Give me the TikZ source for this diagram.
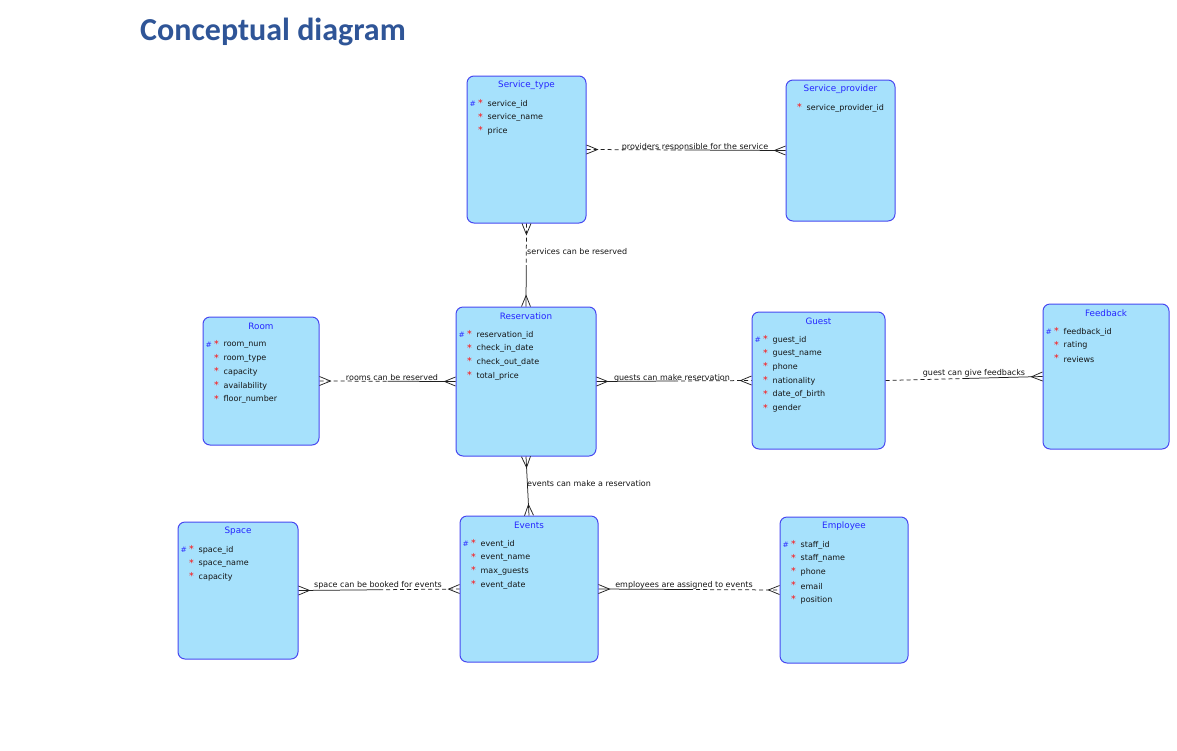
\documentclass[tikz,border=0pt]{standalone}
\usepackage{fontspec}
\setmainfont{DejaVu Sans}
\newfontfamily\titlefont{Carlito}
\usetikzlibrary{calc}
\definecolor{boxfill}{HTML}{A6E1FC}
\definecolor{boxdraw}{HTML}{4848F0}
\definecolor{enttitle}{HTML}{2525FF}
\definecolor{headblue}{HTML}{2F5597}
\definecolor{starred}{HTML}{FF1010}
\definecolor{pkblue}{HTML}{3030FF}
\definecolor{linecol}{HTML}{202020}
\tikzset{
 ent/.style={draw=boxdraw, fill=boxfill, line width=1pt, rounded corners=7pt, inner sep=0pt},
 etitle/.style={text=enttitle, font=\fontsize{8.8}{10}\selectfont, inner sep=0pt},
 attrtxt/.style={anchor=west, font=\fontsize{8}{9}\selectfont, inner sep=0pt, text=black!92},
 starmk/.style={text=starred, font=\fontsize{9.5}{10}\selectfont, inner sep=0pt},
 pkmk/.style={text=pkblue, font=\fontsize{7.5}{9}\selectfont, inner sep=0pt},
 conn/.style={draw=linecol, line width=0.75pt},
 dashpart/.style={conn, dash pattern=on 4pt off 3pt},
 rlabel/.style={anchor=base, font=\fontsize{8}{9}\selectfont, inner sep=0pt, text=black!92},
}
\newcommand\entity[6]{%
 \node[ent, minimum width={#4-#2}, minimum height={#5-#3}] (#1) at ({(#2+#4)/2},{(#3+#5)/2}) {};
 \node[etitle] (#1-title) at ($(#1.north)+(0,9.5)$) {#6};
}
\newcommand\attrlist[2]{%
 \foreach \a [count=\i] in {#2} {
  \node[attrtxt] (#1-a\i) at ($(#1.north west)+(21,{28.5+13.7*(\i-1)})$) {\a};
  \node[starmk] (#1-s\i) at ($(#1.north west)+(14,{27.5+13.7*(\i-1)})$) {*};
 }}
\newcommand\pkmark[1]{\node[pkmk] (#1-pk) at ($(#1.north west)+(6.3,28)$) {\#};}
\newcommand\crow[2]{%
 \draw[conn] ($(#1)!4.5pt!90:(#2)$) -- ($(#1)!11pt!(#2)$) -- ($(#1)!4.5pt!-90:(#2)$);}
\newcommand\rel[4]{%
 \draw[#3] (#1) -- ($(#1)!0.5!(#2)$);
 \draw[#4] ($(#1)!0.5!(#2)$) -- (#2);}
\begin{document}
\begin{tikzpicture}[x=1pt,y=-1pt]
\useasboundingbox (0,0) rectangle (1177,750);
\node[font=\titlefont\bfseries\fontsize{32}{36}\selectfont, text=headblue, anchor=base west, inner sep=0pt] (title) at (140,40) {Conceptual diagram};

\entity{st}{467}{76}{586}{223}{Service\_type}
\entity{prov}{786}{80}{895}{221}{Service\_provider}
\entity{res}{456}{307}{596}{456}{Reservation}
\entity{room}{203}{317}{319}{445}{Room}
\entity{gu}{752}{312}{885}{449}{Guest}
\entity{fb}{1043}{304}{1169}{449}{Feedback}
\entity{spc}{178}{522}{298}{659}{Space}
\entity{ev}{460}{516}{598}{662}{Events}
\entity{emp}{780}{517}{908}{663}{Employee}

\attrlist{st}{service\_id, service\_name, price}\pkmark{st}
\attrlist{prov}{service\_provider\_id}
\attrlist{res}{reservation\_id, check\_in\_date, check\_out\_date, total\_price}\pkmark{res}
\attrlist{room}{room\_num, room\_type, capacity, availability, floor\_number}\pkmark{room}
\attrlist{gu}{guest\_id, guest\_name, phone, nationality, date\_of\_birth, gender}\pkmark{gu}
\attrlist{fb}{feedback\_id, rating, reviews}\pkmark{fb}
\attrlist{spc}{space\_id, space\_name, capacity}\pkmark{spc}
\attrlist{ev}{event\_id, event\_name, max\_guests, event\_date}\pkmark{ev}
\attrlist{emp}{staff\_id, staff\_name, phone, email, position}\pkmark{emp}

% relationships
\rel{st.east}{prov.west}{dashpart}{conn}
\crow{st.east}{prov.west}\crow{prov.west}{st.east}
\node[rlabel] (l1) at (695,149) {providers responsible for the service};

\rel{st.south}{res.north}{dashpart}{conn}
\crow{st.south}{res.north}\crow{res.north}{st.south}
\node[rlabel, anchor=base west] (l2) at (527,254) {services can be reserved};

\rel{room.east}{res.west}{dashpart}{conn}
\crow{room.east}{res.west}\crow{res.west}{room.east}
\node[rlabel] (l3) at (392,380) {rooms can be reserved};

\rel{res.east}{gu.west}{conn}{dashpart}
\crow{res.east}{gu.west}\crow{gu.west}{res.east}
\node[rlabel] (l4) at (672,380) {guests can make reservation};

\rel{gu.east}{fb.west}{dashpart}{conn}
\crow{fb.west}{gu.east}
\node[rlabel] (l5) at (974,375) {guest can give feedbacks};

\rel{res.south}{ev.north}{conn}{conn}
\crow{res.south}{ev.north}\crow{ev.north}{res.south}
\node[rlabel, anchor=base west] (l6) at (527,486) {events can make a reservation};

\rel{spc.east}{ev.west}{conn}{dashpart}
\crow{spc.east}{ev.west}\crow{ev.west}{spc.east}
\node[rlabel] (l7) at (378,587) {space can be booked for events};

\rel{ev.east}{emp.west}{conn}{dashpart}
\crow{ev.east}{emp.west}\crow{emp.west}{ev.east}
\node[rlabel] (l8) at (684,587) {employees are assigned to events};
\end{tikzpicture}
\end{document}
